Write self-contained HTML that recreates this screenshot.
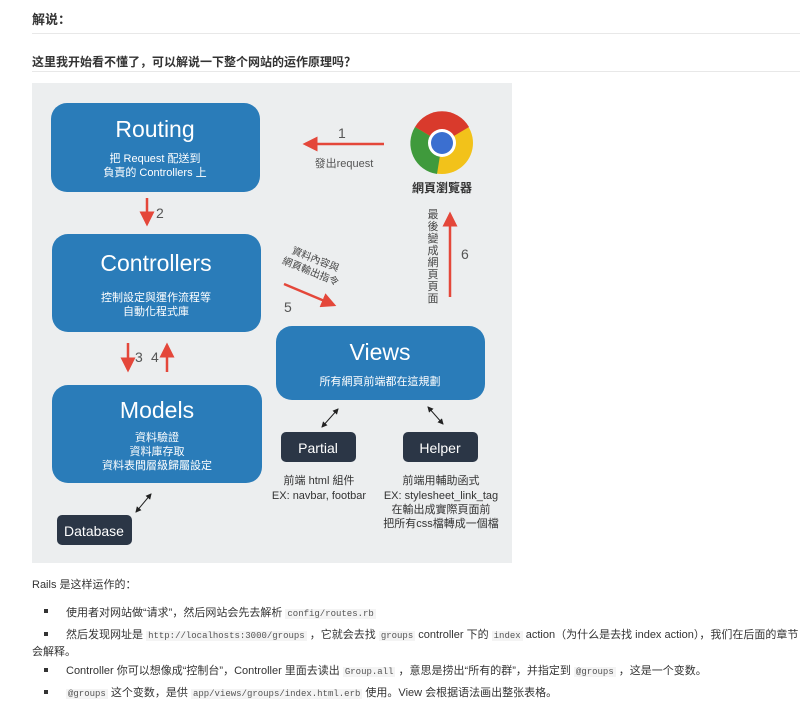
<!DOCTYPE html>
<html><head><meta charset="utf-8"><style>
body{margin:0;background:#fff;width:800px;height:701px;overflow:hidden;font-family:"Liberation Sans","Noto Sans CJK SC",sans-serif;color:#333}
.h{position:absolute;left:32px;font-weight:bold;font-size:13px}
.line{position:absolute;left:32px;right:0;height:1px;background:#e8e8e8}
.t{position:absolute;font-size:11px;color:#333;white-space:nowrap}
code{font-family:"Liberation Mono",monospace;font-size:9px;color:#555;background:#f4f4f4;padding:0 2px}
.b{position:absolute;left:44px;width:4px;height:4px;background:#333}
</style></head><body>
<div class="h" style="top:9px">解说：</div>
<div class="line" style="top:33px"></div>
<div class="h" style="top:53px;font-size:12px">这里我开始看不懂了，可以解说一下整个网站的运作原理吗？</div>
<div class="line" style="top:71px"></div>
<svg style="position:absolute;left:32px;top:83px" width="480" height="480" viewBox="32 83 480 480" font-family="Liberation Sans, Noto Sans CJK TC, sans-serif">
<defs>
<marker id="r" markerWidth="6" markerHeight="6" refX="5" refY="3" orient="auto"><path d="M0,0L6,3L0,6z" fill="#e4473a"/></marker>
<marker id="k" markerWidth="6" markerHeight="6" refX="5" refY="3" orient="auto-start-reverse"><path d="M0,0L6,3L0,6z" fill="#222"/></marker>
</defs>
<rect x="32" y="83" width="480" height="480" fill="#eceeef"/>
<g fill="#2a7cb9">
<rect x="51" y="103" width="209" height="89" rx="16"/>
<rect x="52" y="234" width="209" height="98" rx="16"/>
<rect x="52" y="385" width="210" height="98" rx="16"/>
<rect x="276" y="326" width="209" height="74" rx="16"/>
</g>
<g fill="#2b3646">
<rect x="281" y="432" width="75" height="30" rx="5"/>
<rect x="403" y="432" width="75" height="30" rx="5"/>
<rect x="57" y="515" width="75" height="30" rx="5"/>
</g>
<g fill="#fff" text-anchor="middle">
<text x="155" y="137" font-size="23">Routing</text>
<text x="155" y="162" font-size="11">把 Request 配送到</text>
<text x="155" y="176" font-size="11">負責的 Controllers 上</text>
<text x="156" y="271" font-size="23">Controllers</text>
<text x="156" y="301" font-size="11">控制設定與運作流程等</text>
<text x="156" y="315" font-size="11">自動化程式庫</text>
<text x="157" y="418" font-size="23">Models</text>
<text x="157" y="441" font-size="11">資料驗證</text>
<text x="157" y="455" font-size="11">資料庫存取</text>
<text x="157" y="469" font-size="11">資料表間層級歸屬設定</text>
<text x="380" y="360" font-size="23">Views</text>
<text x="380" y="385" font-size="11">所有網頁前端都在這規劃</text>
<text x="318" y="453" font-size="14">Partial</text>
<text x="440" y="453" font-size="14">Helper</text>
<text x="94" y="536" font-size="14">Database</text>
</g>
<g fill="#333" text-anchor="middle" font-size="11">
<text x="319" y="484">前端 html 組件</text>
<text x="319" y="499">EX: navbar, footbar</text>
<text x="441" y="484">前端用輔助函式</text>
<text x="441" y="499">EX: stylesheet_link_tag</text>
<text x="441" y="513">在輸出成實際頁面前</text>
<text x="441" y="527">把所有css檔轉成一個檔</text>
<text x="442" y="192" font-weight="bold" font-size="12">網頁瀏覽器</text>
</g>
<g stroke="#e4473a" stroke-width="2.5" fill="none">
<line x1="384" y1="144" x2="305" y2="144" marker-end="url(#r)"/>
<line x1="147" y1="198" x2="147" y2="224" marker-end="url(#r)"/>
<line x1="128" y1="343" x2="128" y2="370" marker-end="url(#r)"/>
<line x1="167" y1="372" x2="167" y2="345" marker-end="url(#r)"/>
<line x1="284" y1="284" x2="334" y2="305" marker-end="url(#r)"/>
<line x1="450" y1="297" x2="450" y2="214" marker-end="url(#r)"/>
</g>
<g stroke="#222" stroke-width="1">
<line x1="322" y1="427" x2="338" y2="409" marker-start="url(#k)" marker-end="url(#k)"/>
<line x1="428" y1="407" x2="443" y2="424" marker-start="url(#k)" marker-end="url(#k)"/>
<line x1="136" y1="512" x2="151" y2="494" marker-start="url(#k)" marker-end="url(#k)"/>
</g>
<g fill="#555" font-size="14">
<text x="338" y="138">1</text><text x="156" y="218">2</text>
<text x="135" y="362">3</text><text x="151" y="362">4</text>
<text x="284" y="312">5</text><text x="461" y="259">6</text>
</g>
<text x="344" y="167" text-anchor="middle" font-size="11" fill="#555">發出request</text>
<g font-size="10" fill="#444" transform="rotate(22 312 268)" text-anchor="middle">
<text x="312" y="262">資料內容與</text><text x="312" y="275">網頁輸出指令</text>
</g>
<g font-size="11" fill="#444" text-anchor="middle">
<text x="433" y="218">最</text><text x="433" y="230">後</text><text x="433" y="242">變</text><text x="433" y="254">成</text>
<text x="433" y="266">網</text><text x="433" y="278">頁</text><text x="433" y="290">頁</text><text x="433" y="302">面</text>
</g>
<circle cx="442" cy="143" r="31" fill="#f2c21a"/>
<path d="M442,143 L415,127 A31,31 0 0 1 469,127 Z" fill="#d93a2c"/>
<path d="M442,143 L415,127 A31,31 0 0 0 437,174 Z" fill="#3f9a3c"/>
<circle cx="442" cy="143" r="14" fill="#fff"/>
<circle cx="442" cy="143" r="11" fill="#3b6fd0"/>
</svg>
<div class="t" style="left:32px;top:576px">Rails 是这样运作的：</div>
<div class="b" style="top:609px"></div><div class="t" style="left:66px;top:604px">使用者对网站做“请求”，然后网站会先去解析 <code>config/routes.rb</code></div>
<div class="b" style="top:632px"></div><div class="t" style="left:66px;top:626px">然后发现网址是 <code>http://localhosts:3000/groups</code> ，它就会去找 <code>groups</code> controller 下的 <code>index</code> action（为什么是去找 index action），我们在后面的章节</div>
<div class="t" style="left:32px;top:643px">会解释。</div>
<div class="b" style="top:668px"></div><div class="t" style="left:66px;top:662px">Controller 你可以想像成“控制台”，Controller 里面去读出 <code>Group.all</code> ，意思是捞出“所有的群”，并指定到 <code>@groups</code> ，这是一个变数。</div>
<div class="b" style="top:690px"></div><div class="t" style="left:66px;top:684px"><code>@groups</code> 这个变数，是供 <code>app/views/groups/index.html.erb</code> 使用。View 会根据语法画出整张表格。</div>
</body></html>
